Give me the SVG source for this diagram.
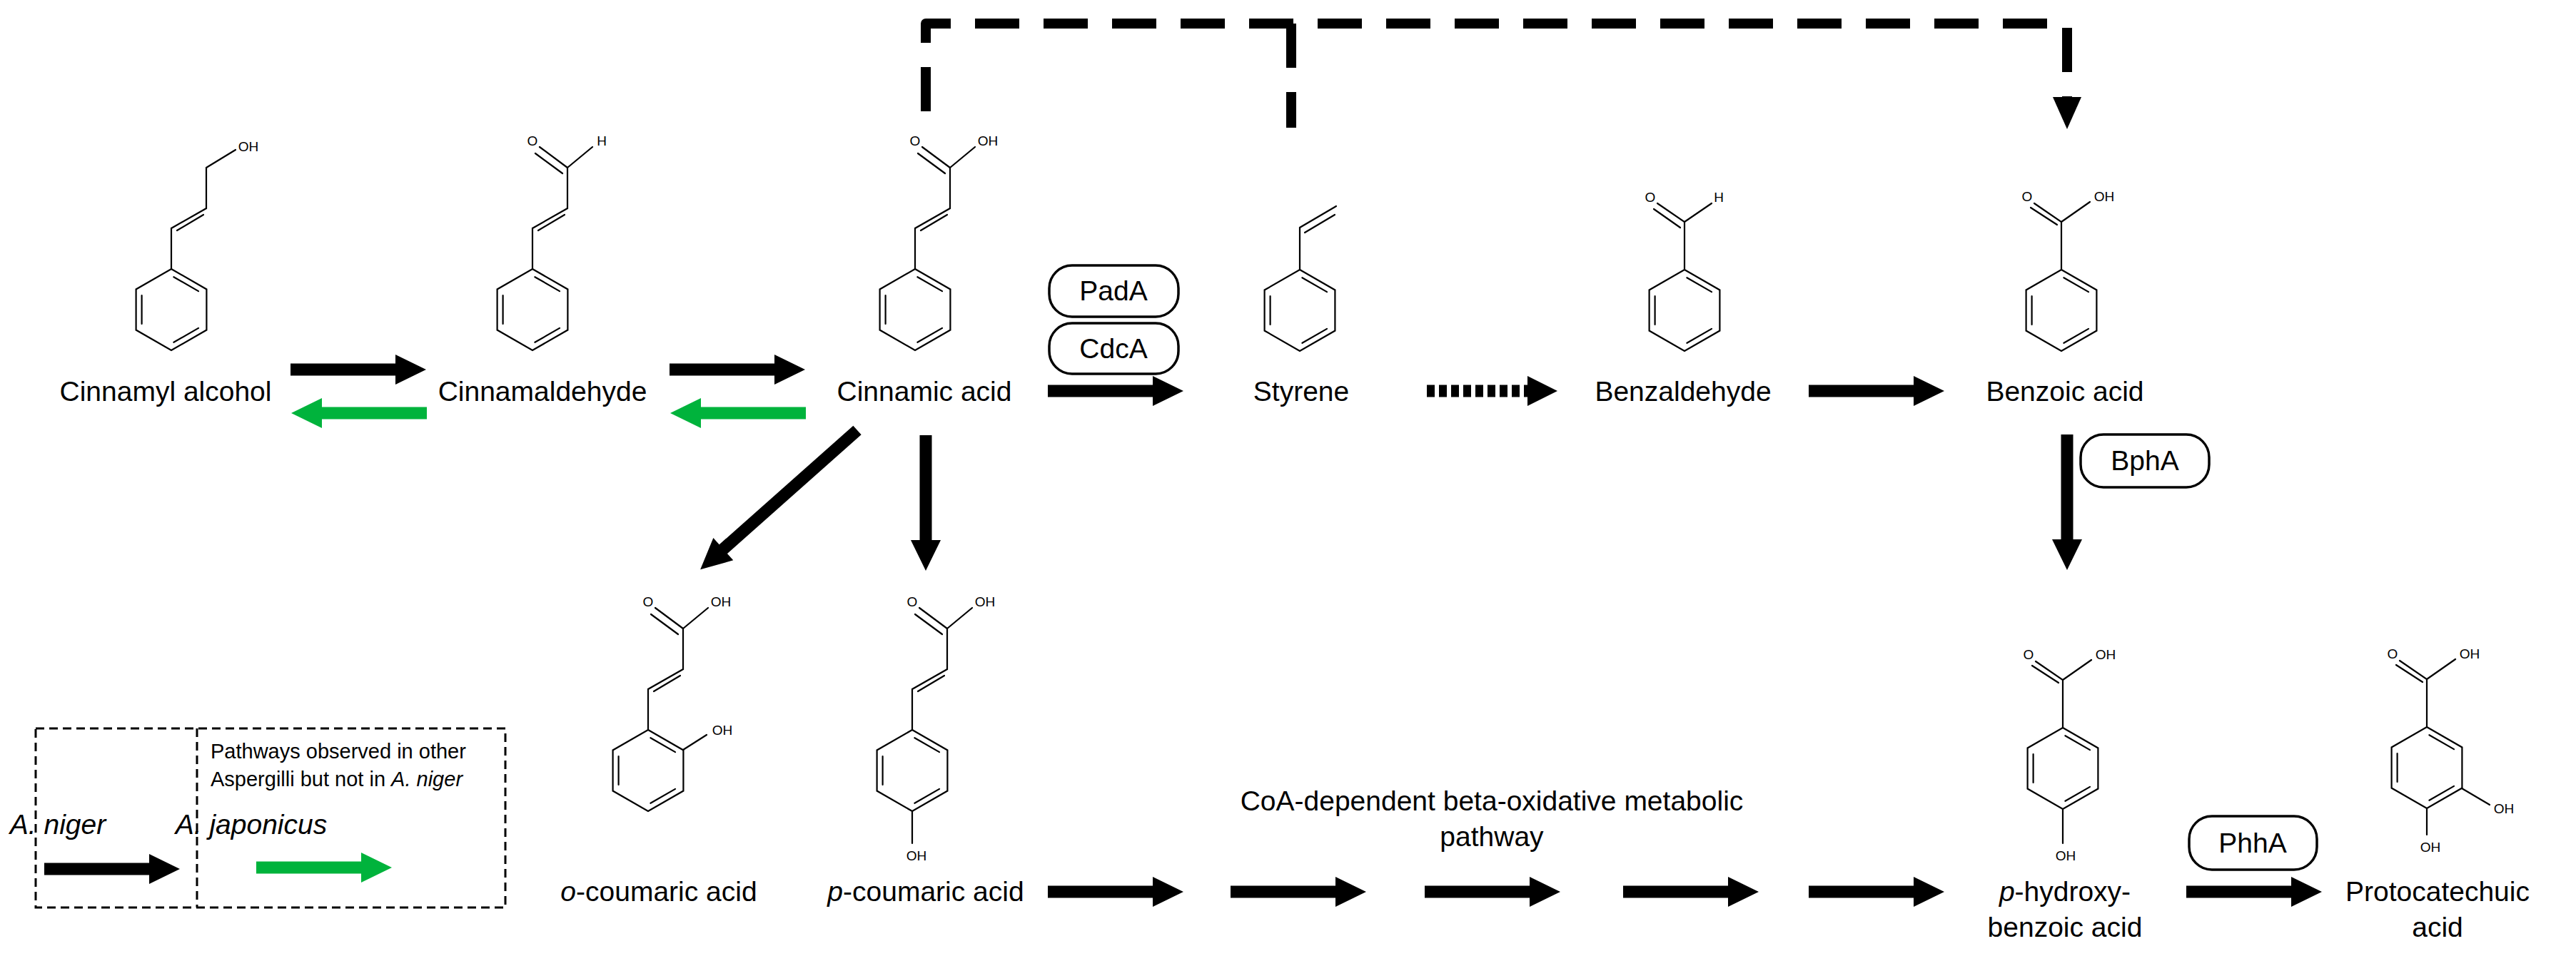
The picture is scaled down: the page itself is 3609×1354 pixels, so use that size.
<svg xmlns="http://www.w3.org/2000/svg" xmlns:xlink="http://www.w3.org/1999/xlink" width="3609" height="1354" viewBox="0 0 3609 1354">
<style>
.b{fill:none;stroke:#000;stroke-width:2.2;stroke-linecap:round}
.at{font-family:"Liberation Sans",Arial,sans-serif;font-size:19px;text-anchor:middle;fill:#000}
.lb{font-family:"Liberation Sans",Arial,sans-serif;font-size:39px;text-anchor:middle;fill:#000}
.lg{font-family:"Liberation Sans",Arial,sans-serif;font-size:29px;fill:#000}
.en{fill:#fff;stroke:#000;stroke-width:3.5}
.blk{fill:#000}
.grn{fill:#00B33C}
</style>
<defs>
<g id="ring" class="b">
<path d="M0,-57 L49.4,-28.5 L49.4,28.5 L0,57 L-49.4,28.5 L-49.4,-28.5 Z"/>
<path d="M3.4,-45.8 L38,-25.9 M-41.4,-20 V20 M38,25.9 L3.4,45.8"/>
</g>
<g id="cinn" class="b">
<path d="M0,-57 V-114 L49,-142 V-199 M8,-111 L45,-133"/>
</g>
<g id="acid">
<path class="b" d="M49,-199 L10,-228 M42,-191 L4,-219 M49,-199 L84,-228"/>
<text class="at" x="0" y="-230">O</text><text class="at" x="102" y="-230">OH</text>
</g>
<g id="bacid">
<path class="b" d="M0,-57 V-124 L-38,-150 M-6,-120 L-43,-144 M0,-124 L40,-152"/>
<text class="at" x="-48" y="-153">O</text><text class="at" x="60" y="-153">OH</text>
</g>
<polygon id="ar" points="0,-8.5 147,-8.5 147,-21 190,0 147,21 147,8.5 0,8.5"/>
</defs>

<g id="connectors">
<use xlink:href="#ar" class="blk" transform="translate(407,518)"/>
<use xlink:href="#ar" class="grn" transform="translate(598,579) rotate(180)"/>
<use xlink:href="#ar" class="blk" transform="translate(938,518)"/>
<use xlink:href="#ar" class="grn" transform="translate(1129,579) rotate(180)"/>
<use xlink:href="#ar" class="blk" transform="translate(1468,548)"/>
<line x1="1999" y1="548" x2="2142" y2="548" stroke="#000" stroke-width="17" stroke-dasharray="11 6"/>
<polygon class="blk" points="2140,527 2182,548 2140,569"/>
<use xlink:href="#ar" class="blk" transform="translate(2534,548)"/>
<use xlink:href="#ar" class="blk" transform="translate(2896,609) rotate(90)"/>
<use xlink:href="#ar" class="blk" transform="translate(1297,610) rotate(90)"/>
<polygon class="blk" transform="translate(1201,603) rotate(138.4)" points="0,-8.5 251,-8.5 251,-21 294,0 251,21 251,8.5 0,8.5"/>
<use xlink:href="#ar" class="blk" transform="translate(1468,1250)"/>
<use xlink:href="#ar" class="blk" transform="translate(1724,1250)"/>
<use xlink:href="#ar" class="blk" transform="translate(1996,1250)"/>
<use xlink:href="#ar" class="blk" transform="translate(2274,1250)"/>
<use xlink:href="#ar" class="blk" transform="translate(2534,1250)"/>
<use xlink:href="#ar" class="blk" transform="translate(3063,1250)"/>
<path d="M1297,156 V33 H2896 V138 M1809,33 V179" fill="none" stroke="#000" stroke-width="14" stroke-dasharray="62 34" stroke-linejoin="round"/>
<polygon class="blk" points="2876,136 2916,136 2896,181"/>
</g>

<g id="cinnamyl-alcohol">
<use xlink:href="#ring" x="240" y="434"/><use xlink:href="#cinn" x="240" y="434"/>
<path class="b" d="M289,235 L330,210"/><text class="at" x="348" y="212">OH</text>
<text class="lb" x="232" y="562">Cinnamyl alcohol</text>
</g>
<g id="cinnamaldehyde">
<use xlink:href="#ring" x="746" y="434"/><use xlink:href="#cinn" x="746" y="434"/>
<path class="b" d="M795,235 L756,206 M788,243 L750,215 M795,235 L830,206"/>
<text class="at" x="746" y="204">O</text><text class="at" x="843" y="204">H</text>
<text class="lb" x="760" y="562">Cinnamaldehyde</text>
</g>
<g id="cinnamic-acid">
<use xlink:href="#ring" x="1282" y="434"/><use xlink:href="#cinn" x="1282" y="434"/><use xlink:href="#acid" x="1282" y="434"/>
<text class="lb" x="1295" y="562">Cinnamic acid</text>
</g>
<g id="styrene">
<use xlink:href="#ring" x="1821" y="435"/>
<path class="b" d="M1821,378 V319 L1872,289 M1828,326 L1870,301"/>
<text class="lb" x="1823" y="562">Styrene</text>
</g>
<g id="benzaldehyde">
<use xlink:href="#ring" x="2360" y="435"/>
<path class="b" d="M2360,378 V311 L2322,285 M2354,319 L2317,293 M2360,311 L2398,285"/>
<text class="at" x="2312" y="283">O</text><text class="at" x="2408" y="283">H</text>
<text class="lb" x="2358" y="562">Benzaldehyde</text>
</g>
<g id="benzoic-acid">
<use xlink:href="#ring" x="2888" y="435"/><use xlink:href="#bacid" x="2888" y="435"/>
<text class="lb" x="2893" y="562">Benzoic acid</text>
</g>
<g id="o-coumaric-acid">
<use xlink:href="#ring" x="908" y="1080"/><use xlink:href="#cinn" x="908" y="1080"/><use xlink:href="#acid" x="908" y="1080"/>
<path class="b" d="M957,1051 L990,1030"/><text class="at" x="1012" y="1030">OH</text>
<text class="lb" x="923" y="1263"><tspan font-style="italic">o</tspan>-coumaric acid</text>
</g>
<g id="p-coumaric-acid">
<use xlink:href="#ring" x="1278" y="1080"/><use xlink:href="#cinn" x="1278" y="1080"/><use xlink:href="#acid" x="1278" y="1080"/>
<path class="b" d="M1278,1137 V1182"/><text class="at" x="1284" y="1206">OH</text>
<text class="lb" x="1297" y="1263"><tspan font-style="italic">p</tspan>-coumaric acid</text>
</g>
<g id="p-hydroxybenzoic-acid">
<use xlink:href="#ring" x="2890" y="1077"/><use xlink:href="#bacid" x="2890" y="1077"/>
<path class="b" d="M2890,1134 V1182"/><text class="at" x="2894" y="1206">OH</text>
<text class="lb" x="2893" y="1263"><tspan font-style="italic">p</tspan>-hydroxy-</text>
<text class="lb" x="2893" y="1313">benzoic acid</text>
</g>
<g id="protocatechuic-acid">
<use xlink:href="#ring" x="3400" y="1076"/><use xlink:href="#bacid" x="3400" y="1076"/>
<path class="b" d="M3449,1105 L3488,1128 M3400,1133 V1170"/>
<text class="at" x="3508" y="1140">OH</text><text class="at" x="3405" y="1194">OH</text>
<text class="lb" x="3415" y="1263">Protocatechuic</text>
<text class="lb" x="3415" y="1313">acid</text>
</g>
<g id="PadA"><rect class="en" x="1470" y="372" width="181" height="72" rx="32"/><text class="lb" x="1560" y="421" font-size="36">PadA</text></g>
<g id="CdcA"><rect class="en" x="1470" y="453" width="181" height="71" rx="32"/><text class="lb" x="1560" y="502" font-size="36">CdcA</text></g>
<g id="BphA"><rect class="en" x="2915" y="609" width="180" height="74" rx="32"/><text class="lb" x="3005" y="659" font-size="36">BphA</text></g>
<g id="PhhA"><rect class="en" x="3067" y="1144" width="179" height="75" rx="32"/><text class="lb" x="3156" y="1195" font-size="36">PhhA</text></g>
<g id="beta-oxidation">
<text class="lb" x="2090" y="1136">CoA-dependent beta-oxidative metabolic</text>
<text class="lb" x="2090" y="1186">pathway</text>
</g>
<g id="legend">
<rect x="50" y="1021" width="658" height="251" fill="none" stroke="#000" stroke-width="3" stroke-dasharray="12 7"/>
<line x1="276" y1="1021" x2="276" y2="1272" stroke="#000" stroke-width="3" stroke-dasharray="12 7"/>
<text class="lg" x="295" y="1063">Pathways observed in other</text>
<text class="lg" x="295" y="1102">Aspergilli but not in <tspan font-style="italic">A. niger</tspan></text>
<text class="lb" x="81" y="1169" text-anchor="start" font-style="italic">A. niger</text>
<text class="lb" x="352" y="1169" text-anchor="start" font-style="italic">A. japonicus</text>
<use xlink:href="#ar" class="blk" transform="translate(62,1218)"/>
<use xlink:href="#ar" class="grn" transform="translate(359,1216)"/>
</g>
</svg>
